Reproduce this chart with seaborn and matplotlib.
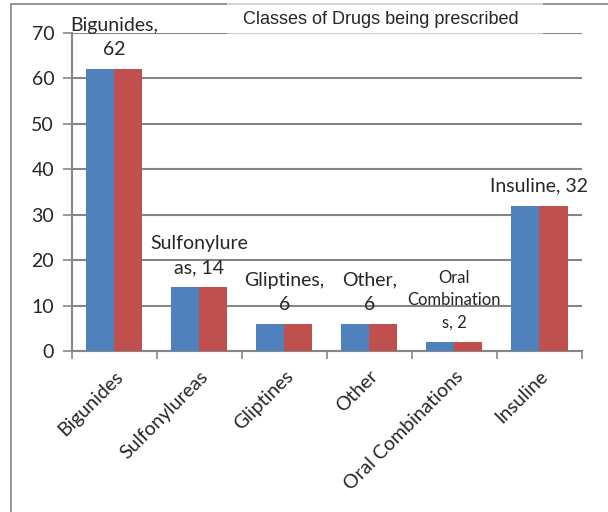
import pandas as pd
import numpy as np
import seaborn as sns
import matplotlib.pyplot as plt
from matplotlib.patches import Rectangle

# datos del grafico
categorias = ['Bigunides', 'Sulfonylureas', 'Gliptines', 'Other', 'Oral Combinations', 'Insuline']
serie_1 = [62, 14, 6, 6, 2, 32]
serie_2 = [62, 14, 6, 6, 2, 32]
etiquetas = ['Bigunides,\n62', 'Sulfonylure\nas, 14', 'Gliptines,\n6', 'Other,\n6',
             'Oral\nCombination\ns, 2', 'Insuline, 32']
titulo = 'Classes of Drugs being prescribed'

df = pd.DataFrame({
    'categoria': categorias * 2,
    'valor': serie_1 + serie_2,
    'serie': ['Serie 1'] * len(categorias) + ['Serie 2'] * len(categorias),
})

sns.set_theme(style='white')
plt.rcParams['font.family'] = ['Lato', 'DejaVu Sans']

gris = '#868686'
fig = plt.figure(figsize=(6.08, 5.12), dpi=100)
W, H = 608, 512

# marco exterior
fig.patches.append(Rectangle((11 / W, -0.1), 1.2, 1 - 4 / H + 0.1, transform=fig.transFigure,
                             fill=False, ec='#8c8c8c', lw=1.3, zorder=0))

ax = fig.add_axes([71.5 / W, 1 - 351 / H, (582 - 71.5) / W, (351 - 33) / H])

sns.barplot(data=df, x='categoria', y='valor', hue='serie', order=categorias,
            palette=['#4F81BD', '#C0504D'], width=0.66, gap=0, saturation=1,
            linewidth=0, legend=False, ax=ax, zorder=3)

ax.set_ylim(0, 70)
ax.set_xlim(-0.5, len(categorias) - 0.5)
ax.set_yticks(range(0, 71, 10))
ax.yaxis.grid(True, color=gris, lw=1.5, zorder=0)
ax.set_axisbelow(True)
ax.set_xlabel('')
ax.set_ylabel('')

for lado in ['top', 'right']:
    ax.spines[lado].set_visible(False)
for lado in ['left', 'bottom']:
    ax.spines[lado].set_color(gris)
    ax.spines[lado].set_linewidth(1.5)

ax.tick_params(axis='y', length=6.5, width=1.2, color=gris, labelsize=14, pad=6, left=True)
ax.tick_params(axis='x', which='major', length=0, labelsize=14, pad=12)
ax.set_xticks(np.arange(-0.5, len(categorias), 1), minor=True)
ax.tick_params(axis='x', which='minor', length=6, width=1.2, color=gris, direction='out', bottom=True)
plt.setp(ax.get_xticklabels(), rotation=45, ha='right', rotation_mode='anchor')

# etiquetas de datos
for i, (txt, v) in enumerate(zip(etiquetas, serie_1)):
    tam = 12 if i == 4 else 14
    ax.annotate(txt, xy=(i, v), xytext=(0, 8), textcoords='offset points',
                ha='center', va='bottom', multialignment='center',
                fontsize=tam, linespacing=1.5, zorder=5, annotation_clip=False)

# caja del titulo
fig.patches.append(Rectangle((227 / W, 1 - 34 / H), 316 / W, 31 / H, transform=fig.transFigure,
                             fc='white', ec='none', alpha=0.6, zorder=10))
fig.text(381 / W, 1 - 19 / H, titulo, ha='center', va='center', fontsize=13,
         family='Liberation Sans', zorder=11)

plt.savefig('out.png', dpi=100)
